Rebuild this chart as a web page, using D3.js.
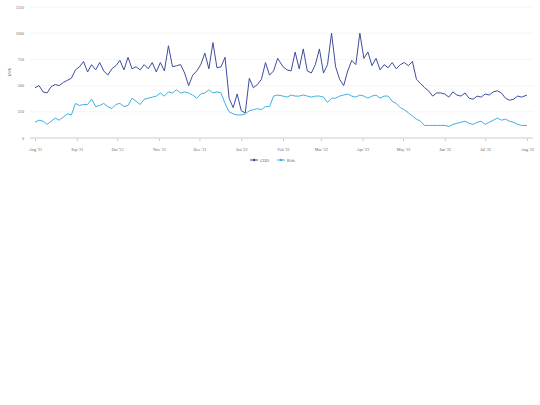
<!DOCTYPE html><html><head><meta charset="utf-8"><script src="https://cdn.jsdelivr.net/npm/d3@7"></script>
<style>body{margin:0;background:#fff}text{font-family:"Liberation Serif",serif;fill:#666}</style></head><body><svg id="c" width="540" height="405"></svg><script>
const seriesNames=["GDD","Kids"];
const colors=["#3f4d9e","#3db1e3"];
const gdd=[480,500,440,430,490,510,500,530,550,570,650,680,730,630,700,650,720,640,600,660,690,740,650,770,660,680,650,700,660,720,630,720,640,880,680,690,700,620,500,600,640,700,810,660,910,670,680,770,380,290,420,260,240,570,480,510,560,720,600,640,760,680,650,640,820,660,850,640,620,700,850,620,700,1000,680,560,500,640,740,700,1000,760,820,690,760,650,700,670,720,660,700,720,690,730,560,520,480,450,400,430,430,420,390,440,410,400,430,380,370,400,390,420,410,440,450,430,380,360,370,400,390,410];
const kids=[150,170,160,130,160,190,170,200,230,220,330,310,320,320,370,300,310,330,300,280,320,330,300,310,380,350,320,370,380,390,400,430,400,440,430,460,430,440,430,410,380,420,430,460,430,440,430,330,250,230,220,220,230,260,270,280,270,300,300,400,410,400,390,410,400,400,410,400,390,400,400,390,340,380,380,400,410,420,400,390,410,400,380,400,410,380,400,400,350,330,290,270,240,210,180,160,120,120,120,120,120,120,110,130,140,150,160,140,130,150,160,130,150,170,190,170,180,160,150,130,120,120];
const yTicks=[0,250,500,750,1000,1250];
const stepDays=3;
const start=new Date(2021,7,1),end=new Date(2022,7,1);
const svg=d3.select("#c");
const x=d3.scaleTime().domain([start,end]).range([35,527]);
const y=d3.scaleLinear().domain([0,1250]).range([138,7]);
const dates=gdd.map((_,i)=>d3.timeDay.offset(start,i*stepDays*365/ (3*121)));
svg.append("g").selectAll("line").data(yTicks.slice(1)).join("line").attr("x1",30).attr("x2",533).attr("y1",d=>y(d)).attr("y2",d=>y(d)).attr("stroke","#eee").attr("stroke-width",0.6);
svg.append("g").selectAll("text").data(yTicks).join("text").attr("x",24).attr("y",d=>y(d)+1.5).attr("text-anchor","end").attr("font-size",4.2).text(d=>d);
const ax=svg.append("g").attr("transform","translate(0,138)").call(d3.axisBottom(x).ticks(d3.timeMonth.every(1)).tickSize(3).tickFormat(d3.timeFormat("%b '%y")));
ax.select(".domain").attr("stroke","#ccc").attr("d","M30,0H533");
ax.selectAll(".tick line").attr("stroke","#ccc");
ax.selectAll("text").attr("font-size",4.2).attr("font-family","Liberation Serif").attr("fill","#666").attr("dy",7);
svg.append("text").attr("transform","translate(11,72) rotate(-90)").attr("text-anchor","middle").attr("font-size",4.2).text("kWh");
const line=d3.line().x((d,i)=>x(dates[i])).y(d=>y(d));
[gdd,kids].forEach((s,k)=>svg.append("path").attr("d",line(s)).attr("fill","none").attr("stroke",colors[k]).attr("stroke-width",1));
const lg=svg.append("g");
[[250,0],[277,1]].forEach(([lx,k])=>{lg.append("line").attr("x1",lx).attr("x2",lx+8).attr("y1",160).attr("y2",160).attr("stroke",colors[k]);lg.append("circle").attr("cx",lx+4).attr("cy",160).attr("r",1.3).attr("fill",colors[k]);lg.append("text").attr("x",lx+10).attr("y",161.5).attr("font-size",4.2).attr("fill","#333").text(seriesNames[k]);});
</script></body></html>
